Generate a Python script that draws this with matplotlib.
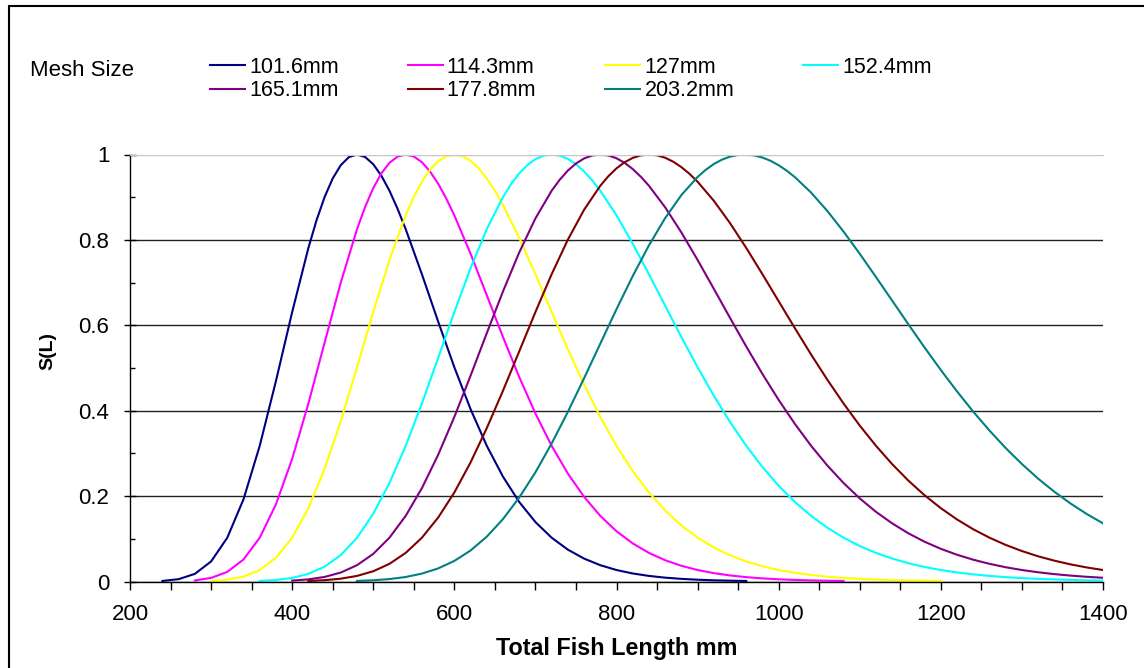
import numpy as np
import matplotlib
matplotlib.use("Agg")
import matplotlib.pyplot as plt
from matplotlib.ticker import MultipleLocator
from matplotlib.patches import Rectangle

plt.rcParams['font.family'] = ['Liberation Sans', 'DejaVu Sans']

# fish length (mm), one value every 20 mm
length_mm = [240, 260, 280, 300, 320, 340, 360, 380, 400, 420,
             440, 460, 480, 500, 520, 540, 560, 580, 600, 620,
             640, 660, 680, 700, 720, 740, 760, 780, 800, 820,
             840, 860, 880, 900, 920, 940, 960, 980, 1000, 1020,
             1040, 1060, 1080, 1100, 1120, 1140, 1160, 1180, 1200, 1220,
             1240, 1260, 1280, 1300, 1320, 1340, 1360, 1380, 1400]

# selectivity S(L), None where the curve is not drawn
s_101 = [0.0013, 0.0055, 0.0179, 0.0469, 0.1026, 0.1926, 0.3178, 0.4696, 0.6310, 0.7811,
         0.9004, 0.9752, 1.0, 0.9772, 0.9151, 0.8252, 0.7196, 0.6090, 0.5018, 0.4037,
         0.3178, 0.2455, 0.1863, 0.1392, 0.1026, 0.0746, 0.0537, 0.0382, 0.0269, 0.0188,
         0.0131, 0.0090, 0.0062, 0.0042, 0.0028, 0.0019, 0.0013] + [None] * 22
s_114 = [None] * 2 + [0.0025, 0.0084, 0.0225, 0.0516, 0.1026, 0.1808, 0.2872, 0.4169, 0.5594, 0.7004,
                      0.8252, 0.9213, 0.9805, 1.0, 0.9819, 0.9317, 0.8575, 0.7677, 0.6705, 0.5725,
                      0.4790, 0.3935, 0.3178, 0.2528, 0.1984, 0.1537, 0.1177, 0.0892, 0.0670, 0.0498,
                      0.0368, 0.0269, 0.0196, 0.0142, 0.0102, 0.0073, 0.0052, 0.0037, 0.0026, 0.0018,
                      0.0013] + [None] * 16
s_127 = [None] * 3 + [0.0013, 0.0042, 0.0115, 0.0269, 0.0556, 0.1026, 0.1717, 0.2638, 0.3761, 0.5018,
                      0.6310, 0.7530, 0.8575, 0.9362, 0.9842, 1.0, 0.9852, 0.9439, 0.8818, 0.8050,
                      0.7196, 0.6310, 0.5438, 0.4612, 0.3854, 0.3178, 0.2589, 0.2084, 0.1661, 0.1311,
                      0.1026, 0.0796, 0.0613, 0.0469, 0.0357, 0.0269, 0.0202, 0.0151, 0.0113, 0.0084,
                      0.0062, 0.0045, 0.0033, 0.0024, 0.0018, 0.0013] + [None] * 10
s_152 = [None] * 6 + [0.0013, 0.0035, 0.0084, 0.0179, 0.0348, 0.0620, 0.1026, 0.1586, 0.2307, 0.3178,
                      0.4169, 0.5233, 0.6310, 0.7337, 0.8252, 0.9004, 0.9558, 0.9891, 1.0, 0.9897,
                      0.9603, 0.9151, 0.8575, 0.7912, 0.7196, 0.6458, 0.5725, 0.5018, 0.4351, 0.3736,
                      0.3178, 0.2681, 0.2243, 0.1863, 0.1537, 0.1260, 0.1026, 0.0831, 0.0670, 0.0537,
                      0.0428, 0.0340, 0.0269, 0.0212, 0.0167, 0.0131, 0.0102, 0.0079, 0.0062, 0.0048,
                      0.0037, 0.0028, 0.0022]
s_165 = [None] * 8 + [0.0021, 0.0050, 0.0107, 0.0210, 0.0382, 0.0647, 0.1026, 0.1537, 0.2186, 0.2965,
                      0.3854, 0.4819, 0.5816, 0.6794, 0.7705, 0.8503, 0.9151, 0.9624, 0.9907, 1.0,
                      0.9912, 0.9660, 0.9268, 0.8763, 0.8175, 0.7530, 0.6856, 0.6174, 0.5504, 0.4860,
                      0.4252, 0.3691, 0.3178, 0.2717, 0.2307, 0.1946, 0.1632, 0.1361, 0.1128, 0.0931,
                      0.0765, 0.0626, 0.0510, 0.0414, 0.0334, 0.0269, 0.0216, 0.0173, 0.0138, 0.0110,
                      0.0087]
s_178 = [None] * 9 + [0.0013, 0.0031, 0.0066, 0.0131, 0.0240, 0.0414, 0.0670, 0.1026, 0.1496, 0.2084,
                      0.2788, 0.3591, 0.4469, 0.5388, 0.6310, 0.7196, 0.8005, 0.8705, 0.9268, 0.9676,
                      0.9920, 1.0, 0.9924, 0.9705, 0.9362, 0.8917, 0.8393, 0.7812, 0.7196, 0.6563,
                      0.5933, 0.5316, 0.4726, 0.4169, 0.3652, 0.3178, 0.2748, 0.2362, 0.2019, 0.1717,
                      0.1453, 0.1223, 0.1026, 0.0857, 0.0713, 0.0590, 0.0488, 0.0401, 0.0329, 0.0269]
s_203 = [None] * 12 + [0.0013, 0.0029, 0.0057, 0.0105, 0.0185, 0.0306, 0.0482, 0.0726, 0.1050, 0.1462,
                       0.1965, 0.2557, 0.3231, 0.3972, 0.4759, 0.5570, 0.6377, 0.7153, 0.7872, 0.8510,
                       0.9049, 0.9474, 0.9776, 0.9950, 0.9999, 0.9929, 0.9748, 0.9470, 0.9108, 0.8678,
                       0.8195, 0.7675, 0.7131, 0.6577, 0.6023, 0.5479, 0.4953, 0.4451, 0.3977, 0.3535,
                       0.3125, 0.2751, 0.2409, 0.2102, 0.1826, 0.1580, 0.1362]

# extra readings around each peak (10 mm apart)
peak_len_101 = [430, 450, 470, 490, 510, 530]
peak_s_101 = [0.8457, 0.9439, 0.9939, 0.9941, 0.9504, 0.8728]
peak_len_114 = [490, 510, 530, 550, 570, 590]
peak_s_114 = [0.8774, 0.9558, 0.9952, 0.9954, 0.9603, 0.8971]
peak_len_127 = [550, 570, 590, 610, 630, 650]
peak_s_127 = [0.9005, 0.9642, 0.9961, 0.9962, 0.9676, 0.9151]
peak_len_152 = [670, 690, 710, 730, 750, 770]
peak_s_152 = [0.9308, 0.9752, 0.9973, 0.9974, 0.9772, 0.9395]
peak_len_165 = [730, 750, 770, 790, 810, 830]
peak_s_165 = [0.9410, 0.9789, 0.9977, 0.9978, 0.9805, 0.9479]
peak_len_178 = [790, 810, 830, 850, 870, 890]
peak_s_178 = [0.9492, 0.9819, 0.9980, 0.9981, 0.9831, 0.9548]
peak_len_203 = [910, 930, 950, 970, 990, 1010]
peak_s_203 = [0.9641, 0.9879, 0.9990, 0.9979, 0.9852, 0.9620]

mesh_labels = ['101.6mm', '114.3mm', '127mm', '152.4mm', '165.1mm', '177.8mm', '203.2mm']
series = [s_101, s_114, s_127, s_152, s_165, s_178, s_203]
peak_lens = [peak_len_101, peak_len_114, peak_len_127, peak_len_152, peak_len_165, peak_len_178, peak_len_203]
peak_vals = [peak_s_101, peak_s_114, peak_s_127, peak_s_152, peak_s_165, peak_s_178, peak_s_203]
colors = ['#000080', '#FF00FF', '#FFFF00', '#00FFFF', '#800080', '#800000', '#008080']

x_ticks = [200, 400, 600, 800, 1000, 1200, 1400]
y_ticks = [0, 0.2, 0.4, 0.6, 0.8, 1]
y_tick_labels = ['0', '0.2', '0.4', '0.6', '0.8', '1']

W, H = 1144, 668
fig = plt.figure(figsize=(W / 100, H / 100), dpi=100)
ax = fig.add_axes([130 / W, 86.5 / H, 973 / W, 427 / H])

lines = []
for vals, px, pv, lab, c in zip(series, peak_lens, peak_vals, mesh_labels, colors):
    pts = [(x, v) for x, v in zip(length_mm, vals) if v is not None] + list(zip(px, pv))
    pts.sort()
    x = np.array([p[0] for p in pts])
    y = np.array([p[1] for p in pts])
    ln, = ax.plot(x, y, color=c, lw=1.5, label=lab)
    lines.append(ln)

ax.set_xlim(200, 1400)
ax.set_ylim(0, 1)
ax.set_xticks(x_ticks)
ax.xaxis.set_minor_locator(MultipleLocator(50))
ax.set_yticks(y_ticks)
ax.set_yticklabels(y_tick_labels)
ax.yaxis.set_minor_locator(MultipleLocator(0.1))

ax.tick_params(axis='x', which='both', direction='out', length=5.5, width=1, labelsize=16, pad=10.5)
ax.tick_params(axis='y', which='major', direction='inout', length=8.6, width=1, labelsize=16, pad=10.5)
ax.tick_params(axis='y', which='minor', direction='in', length=3.6, width=1)

ax.grid(axis='y', which='major', color='#222222', lw=1.0)
ax.yaxis.get_gridlines()[-1].set_color('#c8c8c8')
ax.set_axisbelow(True)

ax.spines['right'].set_visible(False)
ax.spines['top'].set_color('#c8c8c8')
ax.spines['left'].set_linewidth(1)
ax.spines['bottom'].set_linewidth(1)

ax.set_xlabel('Total Fish Length mm', fontsize=16.8, fontweight='bold', va='center')
ax.xaxis.set_label_coords(0.5005, -0.156)
ax.set_ylabel('S(L)', fontsize=14, fontweight='bold', va='center')
ax.yaxis.set_label_coords(-0.0848, 0.539)

# legend laid out like the Excel one: 4 columns, 2 rows
order = [0, 4, 1, 5, 2, 6, 3]
fig.legend([lines[i] for i in order], [mesh_labels[i] for i in order],
           loc='upper left', bbox_to_anchor=(210 / W, 1 - 57 / H), ncol=4,
           frameon=False, fontsize=15.5, handlelength=1.63, handletextpad=0.19,
           columnspacing=3.2, labelspacing=0.1, borderpad=0, borderaxespad=0)
fig.text(30 / W, 1 - 70.7 / H, 'Mesh Size', fontsize=16, va='center', ha='left')

# chart border (cut at right and bottom edges)
fig.add_artist(Rectangle((9 / W, -0.5), 2, (1 - 6 / H) + 0.5, transform=fig.transFigure,
                         fill=False, edgecolor='black', lw=1.5, clip_on=False))

fig.savefig('out.png', dpi=100)
